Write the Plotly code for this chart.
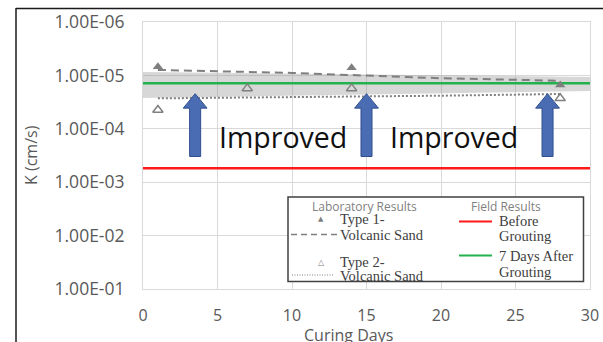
import numpy as np
import plotly.graph_objects as go

# ---------------- data ----------------
type1_days = [1, 14, 28]
type1_k = [6.9e-6, 7.2e-6, 1.51e-5]
type2_days = [1, 7, 14, 28]
type2_k = [4.45e-5, 1.75e-5, 1.75e-5, 2.69e-5]

trend_days = [1, 10, 20, 28]
type1_trend = [7.9e-6, 9.0e-6, 1.13e-5, 1.26e-5]
type2_trend = [2.69e-5, 2.56e-5, 2.4e-5, 2.23e-5]

field_days = [0, 30]
before_k = [5.5e-4, 5.5e-4]
after7_k = [1.41e-5, 1.41e-5]

band_days = [0, 30]
band_top = [8.6e-6, 1.07e-5]
band_bottom = [2.65e-5, 1.96e-5]

arrow_days = [3.5, 15.0, 27.15]
arrow_tip_k = 2.2e-5
arrow_tail_k = 3.3e-4

improved_days = [9.4, 20.85]
improved_k = 1.44e-4
improved_text = "Improved"

y_tickvals = [1e-6, 1e-5, 1e-4, 1e-3, 1e-2, 1e-1]
y_ticktext = ["1.00E-06", "1.00E-05", "1.00E-04", "1.00E-03", "1.00E-02", "1.00E-01"]
x_tickvals = [0, 5, 10, 15, 20, 25, 30]

x_title = "Curing Days"
y_title = "K (cm/s)"
legend_titles = ["Laboratory Results", "Field Results"]
legend_lab = ["Type 1-", "Volcanic Sand", "Type 2-", "Volcanic Sand"]
legend_field = ["Before", "Grouting", "7 Days After", "Grouting"]

# ---------------- layout geometry ----------------
W, H = 603, 342
PL, PR, PT, PB = 143, 590, 22, 289     # plot area in pixels
ML, MR, MT, MB = PL, W - PR, PT, H - PB
PW, PH = PR - PL, PB - PT


def px(x):
    return (x - PL) / PW


def py(y):
    return (PB - y) / PH


GRAY = "#7f7f7f"
TXT = "#595959"

fig = go.Figure()

# shaded band
fig.add_trace(go.Scatter(
    x=band_days + band_days[::-1], y=band_top + band_bottom[::-1],
    fill="toself", fillcolor="rgba(150,150,150,0.38)", line=dict(width=0),
    mode="lines", hoverinfo="skip", showlegend=False))

# field lines
fig.add_trace(go.Scatter(x=field_days, y=before_k, mode="lines",
                         line=dict(color="#ff1a1a", width=2.5), showlegend=False))
fig.add_trace(go.Scatter(x=field_days, y=after7_k, mode="lines",
                         line=dict(color="#22b14c", width=2.5), showlegend=False))

# trend lines
fig.add_trace(go.Scatter(x=trend_days, y=type1_trend, mode="lines",
                         line=dict(color=GRAY, width=2, dash="8px,5px"), showlegend=False))
fig.add_trace(go.Scatter(x=trend_days, y=type2_trend, mode="lines",
                         line=dict(color=GRAY, width=2, dash="2px,2px"), showlegend=False))

# points
fig.add_trace(go.Scatter(x=type1_days, y=type1_k, mode="markers",
                         marker=dict(symbol="triangle-up", size=9, color=GRAY),
                         showlegend=False))
fig.add_trace(go.Scatter(x=type2_days, y=type2_k, mode="markers",
                         marker=dict(symbol="triangle-up-open", size=9, color=GRAY,
                                     line=dict(width=1.5)),
                         showlegend=False))

# block arrows (in data space, log y)
lt, lb = np.log10(arrow_tip_k), np.log10(arrow_tail_k)
head_len = 0.23 * (lb - lt)
head_hw, shaft_hw = 0.8, 0.37
for d in arrow_days:
    xs = [d, d + head_hw, d + shaft_hw, d + shaft_hw, d - shaft_hw, d - shaft_hw, d - head_hw, d]
    ly = [lt, lt + head_len, lt + head_len, lb, lb, lt + head_len, lt + head_len, lt]
    fig.add_trace(go.Scatter(x=xs, y=[10 ** v for v in ly], mode="lines", fill="toself",
                             fillcolor="#4a6cb3", line=dict(color="#2f4f8f", width=1),
                             hoverinfo="skip", showlegend=False))

annotations = []
for d in improved_days:
    annotations.append(dict(x=d, y=np.log10(improved_k), xref="x", yref="y",
                            text=improved_text, showarrow=False,
                            xanchor="center", yanchor="middle",
                            font=dict(family="Open Sans", size=28.5, color="#111111")))


def pann(x, y, text, font, xanchor="center", **kw):
    annotations.append(dict(x=px(x), y=py(y), xref="paper", yref="paper", text=text,
                            showarrow=False, xanchor=xanchor, yanchor="middle",
                            font=font, **kw))


# axis titles
pann(348.5, 334.5, x_title, dict(family="Open Sans", size=16, color=TXT))
pann(31, 155, y_title, dict(family="Open Sans", size=16, color=TXT), textangle=-90)

shapes = []
# outer frame
shapes.append(dict(type="line", xref="paper", yref="paper", x0=px(16), y0=py(8.5),
                   x1=px(W + 5), y1=py(8.5), line=dict(color="#1a1a1a", width=1.5)))
shapes.append(dict(type="line", xref="paper", yref="paper", x0=px(16), y0=py(8),
                   x1=px(16), y1=py(H + 5), line=dict(color="#1a1a1a", width=1.5)))

# legend box
shapes.append(dict(type="rect", xref="paper", yref="paper", x0=px(288), x1=px(583.5),
                   y0=py(281.5), y1=py(197), fillcolor="white",
                   line=dict(color="#404040", width=1.5), layer="above"))
# legend swatches
shapes.append(dict(type="line", xref="paper", yref="paper", x0=px(291), x1=px(338),
                   y0=py(234.5), y1=py(234.5), line=dict(color=GRAY, width=1.5, dash="6px,4px")))
shapes.append(dict(type="line", xref="paper", yref="paper", x0=px(292), x1=px(333),
                   y0=py(275), y1=py(275), line=dict(color=GRAY, width=1.2, dash="1px,1.5px")))
shapes.append(dict(type="line", xref="paper", yref="paper", x0=px(459), x1=px(492),
                   y0=py(221.5), y1=py(221.5), line=dict(color="#ff1a1a", width=2)))
shapes.append(dict(type="line", xref="paper", yref="paper", x0=px(459), x1=px(492),
                   y0=py(255.5), y1=py(255.5), line=dict(color="#22b14c", width=2)))

LEGF = dict(family="Liberation Serif", size=14.5, color="#404040")
TITF = dict(family="Open Sans", size=12, color="#7f7f7f")
pann(364, 206.5, legend_titles[0], TITF)
pann(506, 206.5, legend_titles[1], TITF)
pann(321, 219, "▲", dict(family="DejaVu Sans", size=7, color=GRAY))
pann(321, 262, "△", dict(family="DejaVu Sans", size=8, color=GRAY))
for txt, yy in zip(legend_lab, [219, 234.5, 261.5, 275.5]):
    pann(338, yy, txt, LEGF, xanchor="left")
for txt, yy in zip(legend_field, [221, 236, 255.5, 272]):
    pann(497, yy, txt, LEGF, xanchor="left")

fig.update_layout(
    width=W, height=H,
    margin=dict(l=ML, r=MR, t=MT, b=MB, autoexpand=False),
    paper_bgcolor="white", plot_bgcolor="white",
    showlegend=False,
    annotations=annotations, shapes=shapes,
    font=dict(family="Open Sans", color=TXT),
)
fig.update_xaxes(range=[0, 30], tickvals=x_tickvals, showgrid=True, gridcolor="#d9d9d9",
                 showline=True, mirror=True, linecolor="#d9d9d9", zeroline=False,
                 ticks="", ticklabelstandoff=12, automargin=False,
                 tickfont=dict(family="Open Sans", size=16, color=TXT))
fig.update_yaxes(type="log", range=[-1, -6], tickvals=y_tickvals, ticktext=y_ticktext,
                 showgrid=True, gridcolor="#d9d9d9", showline=True, mirror=True,
                 linecolor="#d9d9d9", zeroline=False, ticks="", ticklabelstandoff=14,
                 automargin=False,
                 tickfont=dict(family="Open Sans", size=17.5, color=TXT))

fig.write_html(
    "out.html",
    config={"displayModeBar": False},
    post_script="document.body.style.margin='0px';document.body.style.overflow='hidden';",
)
